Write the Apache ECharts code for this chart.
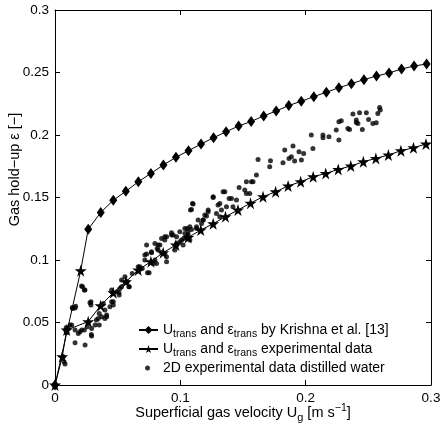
<!DOCTYPE html>
<html><head><meta charset="utf-8">
<script src="https://cdn.jsdelivr.net/npm/echarts@6/dist/echarts.min.js"></script>
<style>html,body{margin:0;padding:0;background:#fff}#c{width:442px;height:435px}</style>
</head><body><div id="c"></div>
<script>
// Krishna et al. locus (U_trans, eps_trans)
const krishnaX = [0,0.0205,0.0265,0.0365,0.0465,0.0565,0.0665,0.0765,0.0865,0.0965,0.1065,0.1165,0.1265,0.1365,0.1465,0.1565,0.1665,0.1765,0.1865,0.1965,0.2065,0.2165,0.2265,0.2365,0.2465,0.2565,0.2665,0.2765,0.2865,0.2965];
const krishnaY = [0,0.0915,0.1246,0.138,0.1478,0.155,0.1626,0.1693,0.176,0.1822,0.1874,0.1928,0.1978,0.2026,0.2072,0.2108,0.2153,0.2192,0.2236,0.2270,0.2307,0.2342,0.2378,0.2411,0.2443,0.2472,0.2496,0.2528,0.2552,0.2568];
// experimental locus (U_trans, eps_trans)
const expX = [0,0.0058,0.0093,0.0265,0.0364,0.0465,0.0566,0.0664,0.0765,0.0863,0.0964,0.1062,0.1163,0.1262,0.136,0.146,0.156,0.166,0.176,0.186,0.196,0.206,0.216,0.226,0.236,0.246,0.256,0.266,0.276,0.286,0.296];
const expY = [0,0.0226,0.044,0.0507,0.0635,0.0739,0.0827,0.092,0.0987,0.1059,0.112,0.118,0.124,0.129,0.1347,0.14,0.1455,0.1506,0.1546,0.1592,0.1626,0.1666,0.1693,0.1725,0.1752,0.1786,0.1813,0.184,0.1874,0.1898,0.1928];
// 2D experimental data, distilled water
const dotsX = [0.0066,0.0072,0.008,0.0085,0.009,0.0095,0.0105,0.012,0.0133,0.0141,0.016,0.0138,0.0165,0.022,0.0234,0.0212,0.0239,0.016,0.016,0.0186,0.0199,0.0213,0.0234,0.0257,0.024,0.0287,0.0287,0.0279,0.0292,0.0292,0.029,0.032,0.033,0.0345,0.0353,0.0353,0.0372,0.0385,0.0398,0.0398,0.0412,0.0412,0.0438,0.0452,0.0452,0.0465,0.0465,0.0496,0.0512,0.0518,0.051,0.0531,0.0531,0.0558,0.0571,0.0576,0.059,0.0592,0.0616,0.0664,0.0672,0.0677,0.0696,0.0717,0.0717,0.0731,0.0731,0.0738,0.0751,0.077,0.077,0.0783,0.0797,0.0797,0.081,0.0815,0.0823,0.0823,0.0837,0.085,0.085,0.0876,0.0876,0.0876,0.089,0.089,0.089,0.093,0.093,0.0943,0.0956,0.097,0.097,0.097,0.0996,0.0996,0.101,0.1022,0.1028,0.1036,0.1036,0.1049,0.1054,0.1062,0.1062,0.1076,0.1076,0.1081,0.1089,0.1089,0.1097,0.1102,0.1129,0.1129,0.1142,0.1169,0.1182,0.1182,0.1195,0.1209,0.1222,0.1222,0.1262,0.1262,0.1288,0.1301,0.1315,0.1315,0.1328,0.1341,0.1355,0.1368,0.1389,0.1408,0.142,0.1448,0.1469,0.1514,0.1527,0.1527,0.1554,0.1567,0.158,0.1607,0.162,0.1713,0.1719,0.1819,0.1833,0.1867,0.1886,0.1899,0.1912,0.1947,0.1966,0.1984,0.2045,0.2058,0.2138,0.2138,0.2186,0.2244,0.2265,0.2265,0.2284,0.2337,0.235,0.2377,0.2404,0.2404,0.2417,0.243,0.2452,0.2484,0.2502,0.2536,0.2563,0.2576,0.259,0.2595,0.2701];
const dotsY = [0.0226,0.0187,0.0168,0.044,0.046,0.042,0.045,0.048,0.048,0.0613,0.0616,0.0621,0.063,0.0787,0.076,0.0792,0.076,0.044,0.0339,0.0413,0.0427,0.044,0.044,0.0467,0.032,0.0667,0.064,0.0658,0.0453,0.0392,0.0405,0.048,0.052,0.0533,0.0573,0.048,0.0547,0.0653,0.06,0.0533,0.056,0.0547,0.0627,0.0667,0.076,0.064,0.0667,0.0747,0.072,0.0773,0.0739,0.0787,0.084,0.0867,0.0827,0.0827,0.0787,0.0787,0.0893,0.0947,0.092,0.0947,0.0933,0.104,0.1,0.1048,0.112,0.0899,0.0899,0.1059,0.1066,0.0973,0.1,0.1133,0.0973,0.1093,0.108,0.112,0.112,0.106,0.1173,0.1048,0.1186,0.116,0.0987,0.1027,0.1186,0.1219,0.12,0.12,0.108,0.1133,0.112,0.1186,0.1146,0.1226,0.116,0.112,0.1173,0.1253,0.1213,0.1186,0.1253,0.12,0.1226,0.1266,0.116,0.14,0.1405,0.1245,0.1453,0.1448,0.1266,0.1253,0.132,0.1293,0.132,0.132,0.136,0.1352,0.1387,0.14,0.1507,0.1501,0.1373,0.144,0.1347,0.1453,0.14,0.1547,0.1547,0.1427,0.1493,0.1493,0.1427,0.148,0.158,0.156,0.1533,0.1627,0.1533,0.1627,0.1627,0.168,0.1805,0.1747,0.1795,0.1779,0.188,0.1813,0.1827,0.1912,0.1792,0.1867,0.18,0.1853,0.2,0.1893,0.2,0.1978,0.1987,0.204,0.2107,0.196,0.2115,0.2053,0.2045,0.2168,0.212,0.2101,0.2093,0.2179,0.2045,0.2179,0.2125,0.2093,0.2099,0.2173,0.2221,0.22];
const tickValues = [0,0.05,0.1,0.15,0.2,0.25,0.3];
const seriesNames = ['Krishna', 'Experimental', 'Dots'];

const STAR = 'path://M50,0 L61,35 L98,35 L68,57 L79,91 L50,70 L21,91 L32,57 L2,35 L39,35 Z';
const DOT_ICON = 'image://data:image/svg+xml;charset=utf-8,' + encodeURIComponent(
  '<svg xmlns="http://www.w3.org/2000/svg" width="19" height="10" viewBox="0 0 19 10"><circle cx="8.5" cy="5" r="2.5" fill="#000"/></svg>');
const FONT = 'Liberation Sans';
const zip = (xs, ys) => xs.map((x, i) => [x, ys[i]]);
const krishnaData = zip(krishnaX, krishnaY).map((p, i) => i === 1 ? {value: p, symbol: STAR, symbolSize: 12} : p);

const fmt = v => (v === 0 ? '0' : String(+v.toFixed(2)));
const axisBase = (extra) => Object.assign({
  type: 'value', min: 0, max: 0.3,
  axisLine: {show: true, onZero: false, lineStyle: {color: '#000', width: 1}},
  axisTick: {show: true, inside: true, length: 5, lineStyle: {color: '#000'}},
  splitLine: {show: false},
  axisLabel: {color: '#000', fontFamily: FONT, fontSize: 13.5}
}, extra);

const chart = echarts.init(document.getElementById('c'), null, {renderer: 'canvas'});
chart.setOption({
  animation: false,
  backgroundColor: '#fff',
  textStyle: {fontFamily: FONT},
  grid: {left: 55, right: 11, top: 10, bottom: 50, containLabel: false, outerBoundsMode: 'none'},
  xAxis: [
    axisBase({interval: 0.1, position: 'bottom',
      axisLabel: {color: '#000', fontFamily: FONT, fontSize: 13.5, margin: 6, formatter: fmt},
      name: 'Superficial gas velocity U{s|g} [m s{p|−1}]', nameLocation: 'middle', nameGap: 17, nameMoveOverlap: false,
      nameTextStyle: {color: '#000', fontFamily: FONT, fontSize: 14.5, verticalAlign: 'top',
        rich: {s: {fontSize: 11, padding: [10, 0, 0, 0], color: '#000'}, p: {fontSize: 10.5, padding: [0, 0, 8, 0], color: '#000'}}}}),
    axisBase({interval: 0.1, position: 'top', axisLabel: {show: false}})
  ],
  yAxis: [
    axisBase({interval: 0.05, position: 'left',
      axisLabel: {color: '#000', fontFamily: FONT, fontSize: 13.5, margin: 6, formatter: fmt},
      name: 'Gas hold−up ε [−]', nameLocation: 'middle', nameGap: 33, nameMoveOverlap: false,
      nameTextStyle: {color: '#000', fontFamily: FONT, fontSize: 14.5, padding: [0, 0, 0, 56]}}),
    axisBase({interval: 0.05, position: 'right', axisLabel: {show: false}})
  ],
  legend: {
    orient: 'vertical', left: 133, top: 318, itemGap: 2, itemWidth: 19, itemHeight: 10,
    data: [seriesNames[0], seriesNames[1], {name: seriesNames[2], icon: DOT_ICON}],
    textStyle: {color: '#000', fontFamily: FONT, fontSize: 14,
      rich: {s: {fontSize: 10.5, padding: [9, 0, 0, 0], color: '#000'}}},
    formatter: function (n) {
      if (n === 'Krishna') return 'U{s|trans} and ε{s|trans} by Krishna et al. [13]';
      if (n === 'Experimental') return 'U{s|trans} and ε{s|trans} experimental data';
      return '2D experimental data distilled water';
    }
  },
  series: [
    {name: 'Krishna', type: 'line', data: krishnaData, xAxisIndex: 0, yAxisIndex: 0,
      symbol: 'diamond', symbolSize: [8, 11], showAllSymbol: true,
      lineStyle: {color: '#000', width: 1}, itemStyle: {color: '#000'}, z: 3},
    {name: 'Experimental', type: 'line', data: zip(expX, expY),
      symbol: STAR, symbolSize: 12, showAllSymbol: true,
      lineStyle: {color: '#000', width: 1}, itemStyle: {color: '#000'}, z: 3},
    {name: 'Dots', type: 'scatter', data: zip(dotsX, dotsY),
      symbol: 'circle', symbolSize: 5, itemStyle: {color: '#000'}, z: 2}
  ]
});
</script></body></html>
